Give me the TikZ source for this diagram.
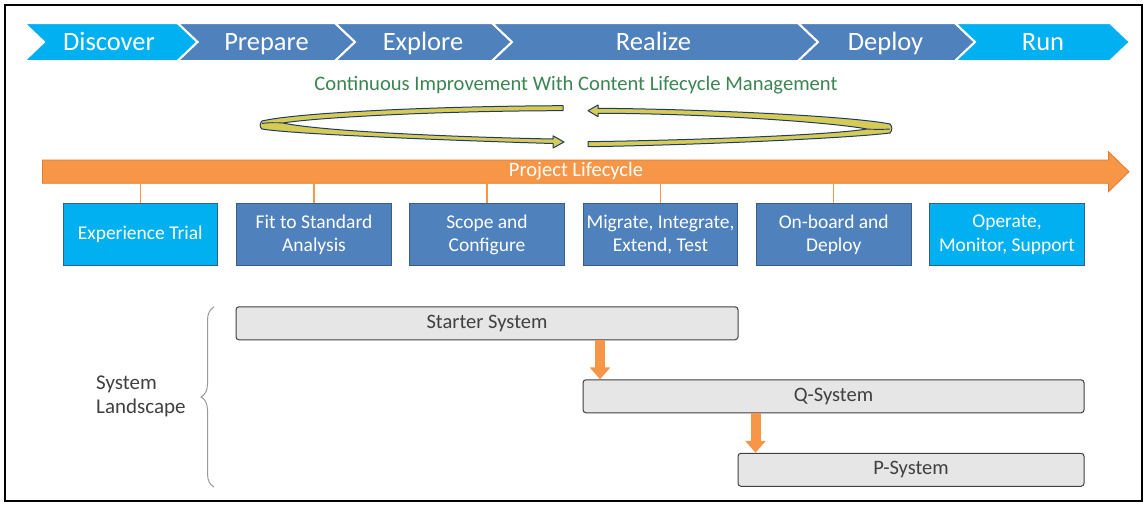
\documentclass[tikz,border=0pt]{standalone}
\usepackage{fontspec}
\setmainfont{Carlito}
\usetikzlibrary{arrows.meta,decorations.pathreplacing}
\definecolor{cyanb}{HTML}{00B0F0}
\definecolor{steel}{HTML}{4F81BD}
\definecolor{steeld}{HTML}{385D8A}
\definecolor{orng}{HTML}{F79646}
\definecolor{orngd}{HTML}{E07A2E}
\definecolor{ribbon}{HTML}{D6CB55}
\definecolor{navyl}{HTML}{1F3B66}
\definecolor{grn}{HTML}{3A8552}
\definecolor{gbox}{HTML}{E6E6E6}
\definecolor{dtext}{HTML}{404040}
\begin{document}
\begin{tikzpicture}[x=1pt,y=-1pt,
  chev/.style={draw=white,line width=2pt,line join=miter},
  chevtext/.style={text=white,font=\fontsize{26.5}{30}\selectfont,inner sep=0,anchor=base},
  phase/.style={draw=steeld,line width=1pt,minimum width=154.5pt,minimum height=62.7pt,inner sep=0,align=center,text=white,font=\fontsize{19.5}{23.3}\selectfont},
  sysbox/.style={draw=dtext,fill=gbox,line width=1pt,rounded corners=3pt,minimum height=33pt,inner sep=0,text=dtext,font=\fontsize{20.5}{24}\selectfont},
  conn/.style={draw=orng,line width=1.3pt},
  sysarrow/.style={draw=orng,line width=10pt,-{Triangle[width=20pt,length=12pt]}},
  ribbonstyle/.style={fill=ribbon,draw=navyl,line width=1pt,line join=round},
  fold/.style={draw=navyl,line width=0.9pt}
]
\useasboundingbox (0,0) rectangle (1147,504);
\draw[black,line width=2.5pt] (5,5) rectangle (1142,501);

% chevrons
\fill[cyanb,chev] (24,23) -- (177.6,23) -- (197.6,42) -- (177.6,61) -- (24,61) -- (44,42) -- cycle;
\fill[steel,chev] (177.6,23) -- (335,23) -- (355,42) -- (335,61) -- (177.6,61) -- (197.6,42) -- cycle;
\fill[steel,chev] (335,23) -- (492,23) -- (512,42) -- (492,61) -- (335,61) -- (355,42) -- cycle;
\fill[steel,chev] (492,23) -- (798,23) -- (818,42) -- (798,61) -- (492,61) -- (512,42) -- cycle;
\fill[steel,chev] (798,23) -- (955,23) -- (975,42) -- (955,61) -- (798,61) -- (818,42) -- cycle;
\fill[cyanb,chev] (955,23) -- (1110,23) -- (1130,42) -- (1110,61) -- (955,61) -- (975,42) -- cycle;
\node[chevtext] (tDiscover) at (109,50) {Discover};
\node[chevtext] (tPrepare) at (266.5,50) {Prepare};
\node[chevtext] (tExplore) at (423,50) {Explore};
\node[chevtext] (tRealize) at (653.5,50) {Realize};
\node[chevtext] (tDeploy) at (885.5,50) {Deploy};
\node[chevtext] (tRun) at (1043,50) {Run};

% title
\node[text=grn,font=\fontsize{20.6}{24}\selectfont,inner sep=0] (title) at (576,85.5) {Continuous Improvement With Content Lifecycle Management};

% ribbons
\draw[ribbonstyle] (563,105.7) .. controls (450,106) and (300,112) .. (262,121)
  .. controls (259.5,124) and (259.5,127) .. (262,129)
  .. controls (290,134) and (450,140.5) .. (553,143.5)
  -- (553,148) -- (564,142) -- (553,135.8) -- (553,139)
  .. controls (450,137) and (320,131) .. (283,123)
  .. controls (320,117) and (450,110.7) .. (563,110.7) -- cycle;
\draw[fold] (283,123) .. controls (275,122.5) and (268,122.5) .. (262,123.5);
\draw[ribbonstyle] (598,108.3) .. controls (700,109) and (850,116) .. (890,124)
  .. controls (892.5,127) and (892.5,130) .. (890,133)
  .. controls (850,138) and (700,145) .. (588,146.7)
  -- (588,141.7)
  .. controls (700,140) and (830,135) .. (867,129)
  .. controls (830,122) and (700,113.3) .. (598,113.3)
  -- (598,116.7) -- (588,110.7) -- (598,105) -- cycle;
\draw[fold] (867,129) .. controls (875,129.5) and (883,129.5) .. (890,129);

% project lifecycle arrow
\draw[fill=orng,draw=orngd,line width=0.8pt] (42.5,160) -- (1108.5,160) -- (1108.5,151.7) -- (1129,171.7) -- (1108.5,191.7) -- (1108.5,183.3) -- (42.5,183.3) -- cycle;
\node[text=white,font=\fontsize{20.5}{24}\selectfont,inner sep=0] (plc) at (576,171.5) {Project Lifecycle};
\coordinate (plb) at (0,183.3);

% phase boxes
\node[phase,fill=cyanb,draw=steeld] (b1) at (140.25,234.6) {Experience Trial};
\node[phase,fill=steel] (b2) at (314,234.6) {Fit to Standard\\Analysis};
\node[phase,fill=steel] (b3) at (487,234.6) {Scope and\\Configure};
\node[phase,fill=steel] (b4) at (660.5,234.6) {Migrate, Integrate,\\Extend, Test};
\node[phase,fill=steel] (b5) at (833.75,234.6) {On-board and\\Deploy};
\node[phase,fill=cyanb,draw=steeld] (b6) at (1007,234.6) {Operate,\\Monitor, Support};
\foreach \b in {b1,b2,b3,b4,b5}{
  \draw[conn] (\b.north) -- (\b.north |- plb);
}

% system landscape
\node[sysbox,minimum width=502pt] (starter) at (487,323.3) {Starter System};
\node[sysbox,minimum width=501pt] (qsys) at (833.5,396.3) {Q-System};
\node[sysbox,minimum width=346pt] (psys) at (911,469.8) {P-System};
\coordinate (a1) at (600,0);
\coordinate (a2) at (755.5,0);
\draw[sysarrow] (starter.south -| a1) -- (qsys.north -| a1);
\draw[sysarrow] (qsys.south -| a2) -- (psys.north -| a2);

\draw[draw=gray!80,line width=1pt,decorate,decoration={brace,amplitude=13pt}] (214,487) -- (214,307);
\node[anchor=west,align=left,inner sep=0,text=dtext,font=\fontsize{21}{24}\selectfont] (sl) at (96,396) {System\\Landscape};
\end{tikzpicture}
\end{document}
